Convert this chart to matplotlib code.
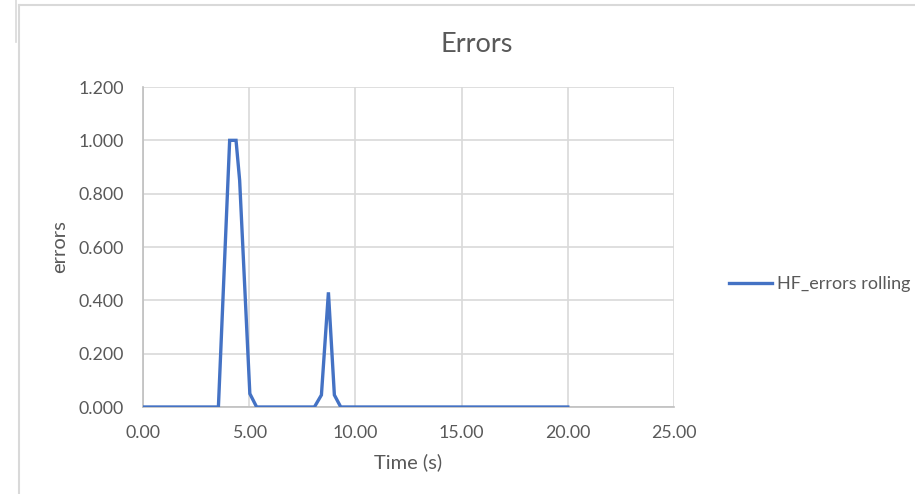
import matplotlib
matplotlib.use("Agg")
import matplotlib.pyplot as plt
from matplotlib.lines import Line2D

# Rolling error rate over time
time_s = [0.00, 3.55, 4.08, 4.38, 4.55, 5.03, 5.35, 8.07, 8.40, 8.73, 9.01, 9.31, 20.00]
hf_errors_rolling = [0.000, 0.000, 1.000, 1.000, 0.850, 0.050, 0.000, 0.000, 0.045, 0.430, 0.045, 0.000, 0.000]

x_ticks = [0, 5, 10, 15, 20, 25]
y_ticks = [0.0, 0.2, 0.4, 0.6, 0.8, 1.0, 1.2]

plt.rcParams["font.family"] = ["Lato", "DejaVu Sans"]
text_color = "#595959"
grid_color = "#d9d9d9"
axis_color = "#bfbfbf"
line_color = "#4472c4"

W, H = 915, 494
fig = plt.figure(figsize=(W / 100, H / 100), dpi=100)
fig.patch.set_facecolor("white")

# chart frame edges
fig.add_artist(Line2D([19 / W, 19 / W], [0, 1 - 5 / H], transform=fig.transFigure,
                      color=grid_color, lw=1.5))
fig.add_artist(Line2D([19 / W, 1], [1 - 5 / H, 1 - 5 / H], transform=fig.transFigure,
                      color=grid_color, lw=1.5))
fig.add_artist(Line2D([16 / W, 16 / W], [1 - 42 / H, 1], transform=fig.transFigure,
                      color=grid_color, lw=1.2))

left, right, top, bottom = 143, 674, 87, 407
ax = fig.add_axes([left / W, 1 - bottom / H, (right - left) / W, (bottom - top) / H])

ax.plot(time_s, hf_errors_rolling, color=line_color, lw=2.4, solid_joinstyle="miter",
        label="HF_errors rolling", zorder=3)

ax.set_xlim(0, 25)
ax.set_ylim(0, 1.2)
ax.set_xticks(x_ticks)
ax.set_yticks(y_ticks)
ax.set_xticklabels([f"{v:.2f}" for v in x_ticks])
ax.set_yticklabels([f"{v:.3f}" for v in y_ticks])
ax.grid(True, color=grid_color, lw=1.2)
ax.set_axisbelow(True)

for side in ("top", "right"):
    ax.spines[side].set_visible(False)
for side in ("left", "bottom"):
    ax.spines[side].set_color(axis_color)
    ax.spines[side].set_linewidth(1.2)

ax.tick_params(axis="both", length=0, labelsize=12.8, colors=text_color)
ax.tick_params(axis="y", pad=14)
ax.tick_params(axis="x", pad=13)

ax.set_xlabel("Time (s)", fontsize=14.5, color=text_color, labelpad=9)
ax.set_ylabel("errors", fontsize=14.5, color=text_color, labelpad=7)

fig.text(477 / W, 1 - 44 / H, "Errors", ha="center", va="center",
         fontsize=19.5, color=text_color)

ax.legend(loc="center left", bbox_to_anchor=(729 / W, 1 - 284 / H),
          bbox_transform=fig.transFigure, frameon=False, fontsize=13,
          labelcolor=text_color, handlelength=2.4, handletextpad=0.25,
          borderaxespad=0, borderpad=0)

fig.savefig("out.png", dpi=100)
